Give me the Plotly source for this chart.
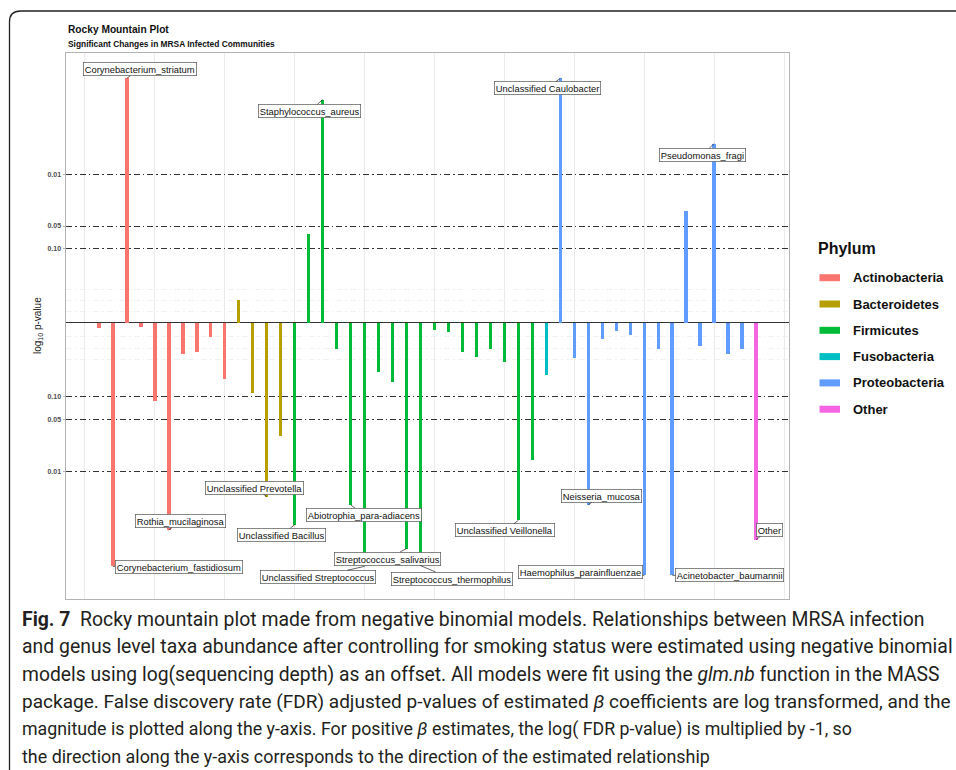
import math
import plotly.graph_objects as go

# ---------------- data ----------------
phylum_order = ["Actinobacteria", "Bacteroidetes", "Firmicutes", "Fusobacteria", "Proteobacteria", "Other"]
phylum_colors = ["#F8766D", "#B79F00", "#00BA38", "#00BFC4", "#619CFF", "#F564E3"]
phylum_counts = [10, 4, 18, 1, 14, 1]

# signed log10 FDR p-value (positive = positive beta)
signed_logp = [
    -0.075, -3.28, 3.29, -0.06, -1.06, -2.79, -0.425, -0.40, -0.197, -0.76,
    0.305, -0.94, -2.34, -1.53,
    -2.72, 1.19, 3.00, -0.36, -2.45, -3.28, -0.67, -0.80, -3.04, -3.27,
    -0.10, -0.12, -0.39, -0.46, -0.35, -0.525, -2.66, -1.85,
    -0.71,
    3.29, -0.47, -2.45, -0.22, -0.11, -0.165, -3.40, -0.36, -3.40, 1.50,
    -0.32, 2.41, -0.42, -0.35,
    -2.92,
]

label_index = [3, 17, 34, 45, 2, 6, 13, 15, 19, 20, 23, 24, 31, 36, 40, 42, 48]
label_text = [
    "Corynebacterium_striatum", "Staphylococcus_aureus", "Unclassified Caulobacter",
    "Pseudomonas_fragi", "Corynebacterium_fastidiosum", "Rothia_mucilaginosa",
    "Unclassified Prevotella", "Unclassified Bacillus", "Abiotrophia_para-adiacens",
    "Unclassified Streptococcus", "Streptococcus_salivarius", "Streptococcus_thermophilus",
    "Unclassified Veillonella", "Neisseria_mucosa", "Haemophilus_parainfluenzae",
    "Acinetobacter_baumannii", "Other",
]

threshold_p = [0.01, 0.05, 0.10]
threshold_labels = ["0.01", "0.05", "0.10"]

caption_lines = [
    "<b>Fig. 7</b>  Rocky mountain plot made from negative binomial models. Relationships between MRSA infection",
    "and genus level taxa abundance after controlling for smoking status were estimated using negative binomial",
    "models using log(sequencing depth) as an offset. All models were fit using the <i>glm.nb</i> function in the MASS",
    "package. False discovery rate (FDR) adjusted p-values of estimated <i>β</i> coefficients are log transformed, and the",
    "magnitude is plotted along the y-axis. For positive <i>β</i> estimates, the log( FDR p-value) is multiplied by -1, so",
    "the direction along the y-axis corresponds to the direction of the estimated relationship",
]
# per-line font sizes so each line spans the same width as in the source (condensed font unavailable)
caption_sizes = [19.4, 19.4, 19.3, 19.05, 17.8, 17.9]

# ---------------- layout helpers (pixel geometry) ----------------
W, H = 956, 770
L, R, T, B = 66, 167, 53, 171
PW, PH = W - L - R, H - T - B


def pxx(x):
    return (x - L) / PW


def pxy(y):
    return (H - B - y) / PH


x_index = list(range(1, len(signed_logp) + 1))
phylum_of = []
for name, n in zip(phylum_order, phylum_counts):
    phylum_of += [name] * n

fig = go.Figure()
for name, col in zip(phylum_order, phylum_colors):
    xs = [i for i, p in zip(x_index, phylum_of) if p == name]
    ys = [v for v, p in zip(signed_logp, phylum_of) if p == name]
    fig.add_trace(go.Bar(x=xs, y=ys, marker=dict(color=col, line=dict(width=0)),
                         width=0.25, name=name, showlegend=False, hoverinfo="x+y"))

# label offsets in pixels (label centre relative to bar end)
label_offsets = [(13, -9), (-13, 11), (-13, 10), (-12, 11), (66, 1), (12, -9), (-12, -9),
                 (-13, 10), (13, 10), (-47, 10.5), (-19, 10), (31, 13), (-13, 10),
                 (13, -9), (-64, -3), (57.5, 0), (13, -10)]
annotations = []
for idx, txt, (ax, ay) in zip(label_index, label_text, label_offsets):
    annotations.append(dict(
        x=idx, y=signed_logp[idx - 1], xref="x", yref="y", text=txt,
        showarrow=True, arrowhead=0, arrowwidth=0.7, arrowcolor="#222222",
        ax=ax, ay=ay, axref="pixel", ayref="pixel",
        font=dict(family="Liberation Sans, Arial", size=9.4, color="#111111"),
        bgcolor="white", bordercolor="#555555", borderwidth=0.7, borderpad=1.0,
    ))

# titles
annotations.append(dict(x=pxx(66), y=pxy(30), xref="paper", yref="paper", text="<b>Rocky Mountain Plot</b>",
                        showarrow=False, xanchor="left", yanchor="middle",
                        font=dict(family="Liberation Sans, Arial", size=10.2, color="#111111")))
annotations.append(dict(x=pxx(66), y=pxy(44), xref="paper", yref="paper",
                        text="<b>Significant Changes in MRSA Infected Communities</b>",
                        showarrow=False, xanchor="left", yanchor="middle",
                        font=dict(family="Liberation Sans, Arial", size=8.4, color="#111111")))
# y axis title
annotations.append(dict(x=pxx(38), y=pxy(326), xref="paper", yref="paper", text="log<sub>10</sub> p-value",
                        showarrow=False, textangle=-90, xanchor="center", yanchor="middle",
                        font=dict(family="Liberation Sans, Arial", size=10, color="#222222")))

# legend (ggplot style)
annotations.append(dict(x=pxx(816), y=pxy(249), xref="paper", yref="paper", text="<b>Phylum</b>",
                        showarrow=False, xanchor="left", yanchor="middle",
                        font=dict(family="Liberation Sans, Arial", size=16, color="#111111")))
shapes = []
for k, (name, col) in enumerate(zip(phylum_order, phylum_colors)):
    yc = 277.7 + 26.3 * k
    shapes.append(dict(type="rect", xref="paper", yref="paper", x0=pxx(819.5), x1=pxx(840),
                       y0=pxy(yc - 3.5), y1=pxy(yc + 3.5), fillcolor=col, line=dict(width=0)))
    annotations.append(dict(x=pxx(851), y=pxy(yc), xref="paper", yref="paper", text="<b>" + name + "</b>",
                            showarrow=False, xanchor="left", yanchor="middle",
                            font=dict(family="Liberation Sans, Arial", size=13, color="#111111")))

# outer frame with rounded top-left corner
r = 11
fx, fy = 9.5, 11
path = (f"M {pxx(fx)} {pxy(H + 5)} L {pxx(fx)} {pxy(fy + r)} "
        f"Q {pxx(fx)} {pxy(fy)} {pxx(fx + r)} {pxy(fy)} L {pxx(W + 5)} {pxy(fy)}")
shapes.append(dict(type="path", xref="paper", yref="paper", path=path,
                   line=dict(color="#222222", width=1.3)))

# caption
for k, (line, sz) in enumerate(zip(caption_lines, caption_sizes)):
    annotations.append(dict(x=pxx(20), y=pxy(619.5 + 27.4 * k), xref="paper", yref="paper", text=line,
                            showarrow=False, xanchor="left", yanchor="middle",
                            font=dict(family="Roboto", size=sz, color="#231f20")))

thr_vals = [-math.log10(p) for p in threshold_p]
tickvals = thr_vals + [-v for v in thr_vals]
ticktext = ["<b>" + t + "</b>" for t in threshold_labels] * 2

fig.update_layout(
    width=W, height=H, margin=dict(l=L, r=R, t=T, b=B, autoexpand=False),
    paper_bgcolor="white", plot_bgcolor="white", bargap=0, showlegend=False,
    annotations=annotations, shapes=shapes,
    xaxis=dict(range=[-1.35, 50.35], tick0=0, dtick=5, showticklabels=False, ticks="",
               showgrid=True, gridcolor="#ebebeb", gridwidth=0.6, zeroline=False,
               showline=True, mirror=True, linecolor="#b3b3b3", linewidth=1),
    yaxis=dict(range=[-3.719, 3.630], tickmode="array", tickvals=tickvals, ticktext=ticktext,
               tickfont=dict(family="Liberation Sans, Arial", size=7, color="#4d4d4d"),
               ticks="outside", ticklen=2.5, tickcolor="#b3b3b3", tickwidth=0.6,
               showgrid=True, gridcolor="#333333", gridwidth=0.9, griddash="6px,3px,1.5px,3px",
               zeroline=True, zerolinecolor="#333333", zerolinewidth=1.2,
               minor=dict(tickvals=[0.148, 0.296, 0.45, -0.188, -0.345, -0.5], showgrid=True,
                          gridcolor="#f2f2f2", gridwidth=0.6, ticks=""),
               showline=True, mirror=True, linecolor="#b3b3b3", linewidth=1),
)

fig.write_html("out.html", config={"displayModeBar": False},
               post_script="document.body.style.margin='0px';document.body.style.overflow='hidden';")
